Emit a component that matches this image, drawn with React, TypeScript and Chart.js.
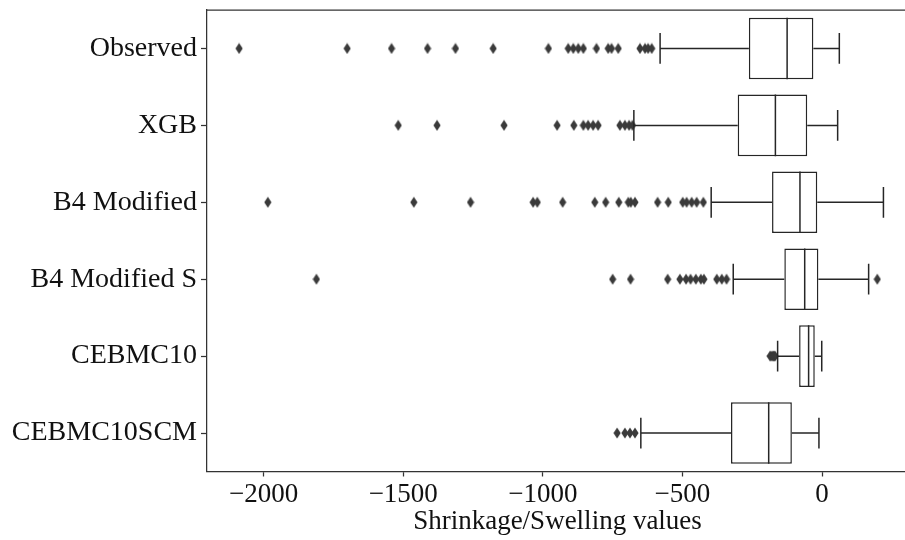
import React, { useEffect, useRef } from "react";
import { Chart, registerables } from "chart.js";

Chart.register(...registerables);

const categories = ["Observed", "XGB", "B4 Modified", "B4 Modified S", "CEBMC10", "CEBMC10SCM"];
const q1Values = [-262, -302, -179, -135, -82, -326];
const medianValues = [-125, -167, -79, -62, -48, -191];
const q3Values = [-31, -53, -17, -13, -26, -108];
const whiskerLow = [-580, -674, -397, -318, -159, -649];
const whiskerHigh = [62, 56, 220, 167, -1, -11];

const outliersObserved = [-2088, -1701, -1542, -1413, -1313, -1178, -980, -909, -891, -873, -855, -808, -766, -754, -730, -652, -634, -623, -610];
const outliersXGB = [-1518, -1379, -1139, -949, -889, -855, -838, -820, -802, -724, -706, -691, -679];
const outliersB4 = [-1985, -1462, -1259, -1035, -1020, -929, -814, -775, -728, -694, -685, -670, -589, -551, -499, -485, -467, -449, -425];
const outliersB4S = [-1811, -750, -686, -553, -509, -487, -471, -452, -434, -423, -377, -359, -342, 198];
const outliersCEBMC10 = [-186, -181, -176, -172, -168];
const outliersCEBMC10SCM = [-734, -706, -688, -670];

const xTickValues = [-2000, -1500, -1000, -500, 0];
const xMin = -2203;
const xMax = 308;
const xTitle = "Shrinkage/Swelling values";

const allOutliers = [outliersObserved, outliersXGB, outliersB4, outliersB4S, outliersCEBMC10, outliersCEBMC10SCM];

const FONT = "'Liberation Serif', 'Times New Roman', serif";
const LINE = "#262626";
const SPINE = "#333333";

export default function App() {
  const ref = useRef<HTMLCanvasElement | null>(null);

  useEffect(() => {
    if (!ref.current) return;
    const mk = document.createElement("canvas");
    mk.width = 8;
    mk.height = 12;
    const mc = mk.getContext("2d")!;
    mc.fillStyle = "#3a3a3a";
    mc.beginPath();
    mc.moveTo(4, 0.5);
    mc.lineTo(7.6, 6);
    mc.lineTo(4, 11.5);
    mc.lineTo(0.4, 6);
    mc.closePath();
    mc.fill();

    const boxPlugin = {
      id: "boxParts",
      afterDatasetsDraw(chart: any) {
        const { ctx, scales, chartArea } = chart;
        const x = scales.x;
        const y = scales.y;
        const meta = chart.getDatasetMeta(0);
        ctx.save();
        ctx.strokeStyle = LINE;
        ctx.lineWidth = 1.5;
        categories.forEach((_, i) => {
          const bar = meta.data[i];
          const h = bar.height;
          const yc = y.getPixelForValue(i);
          const top = yc - h / 2;
          const bot = yc + h / 2;
          const xm = x.getPixelForValue(medianValues[i]);
          const xq1 = x.getPixelForValue(q1Values[i]);
          const xq3 = x.getPixelForValue(q3Values[i]);
          const xl = x.getPixelForValue(whiskerLow[i]);
          const xh = x.getPixelForValue(whiskerHigh[i]);
          ctx.beginPath();
          ctx.moveTo(xm, top);
          ctx.lineTo(xm, bot);
          ctx.moveTo(xl, yc);
          ctx.lineTo(xq1, yc);
          ctx.moveTo(xq3, yc);
          ctx.lineTo(xh, yc);
          ctx.moveTo(xl, yc - h / 4);
          ctx.lineTo(xl, yc + h / 4);
          ctx.moveTo(xh, yc - h / 4);
          ctx.lineTo(xh, yc + h / 4);
          ctx.stroke();
        });
        // top spine
        ctx.strokeStyle = SPINE;
        ctx.lineWidth = 1.25;
        ctx.beginPath();
        ctx.moveTo(chartArea.left, chartArea.top);
        ctx.lineTo(chartArea.right, chartArea.top);
        ctx.stroke();
        ctx.restore();
      },
    };

    const outlierData: any[] = [];
    allOutliers.forEach((arr, i) => {
      arr.forEach((v) => outlierData.push({ x: v, y: categories[i] }));
    });

    const chart = new Chart(ref.current, {
      type: "bar",
      data: {
        labels: categories,
        datasets: [
          {
            type: "bar",
            data: categories.map((_, i) => [q1Values[i], q3Values[i]]) as any,
            backgroundColor: "#ffffff",
            borderColor: LINE,
            borderWidth: 1.5,
            borderSkipped: false,
            barPercentage: 0.8,
            categoryPercentage: 1,
          } as any,
          {
            type: "scatter",
            data: outlierData,
            pointStyle: mk as any,
            pointRadius: 5,
            backgroundColor: "#3a3a3a",
            borderColor: "#3a3a3a",
          } as any,
        ],
      },
      options: {
        indexAxis: "y",
        responsive: false,
        animation: false,
        devicePixelRatio: 1,
        layout: { padding: { top: 10, right: 12, left: 0, bottom: 0 } },
        plugins: { legend: { display: false }, tooltip: { enabled: false } },
        scales: {
          x: {
            type: "linear",
            min: xMin,
            max: xMax,
            afterBuildTicks: (scale: any) => {
              scale.ticks = xTickValues.map((v) => ({ value: v }));
            },
            afterFit: (scale: any) => {
              scale.height = 68.5;
              scale.paddingLeft = 0;
              scale.paddingRight = 0;
            },
            grid: { drawOnChartArea: false, drawTicks: true, tickLength: 5, tickColor: SPINE, tickWidth: 1.25 },
            border: { display: true, color: SPINE, width: 1.25 },
            ticks: {
              color: "#111",
              font: { family: FONT, size: 27 },
              padding: 2,
              maxRotation: 0,
              callback: (v: any) => (Number(v) < 0 ? "\u2212" + Math.abs(Number(v)) : String(v)),
            },
            title: {
              display: true,
              text: xTitle,
              color: "#111",
              font: { family: FONT, size: 27 },
              padding: { top: 0, bottom: 2 },
            },
          },
          y: {
            type: "category",
            offset: true,
            afterFit: (scale: any) => {
              scale.width = 207;
              scale.paddingTop = 0;
              scale.paddingBottom = 0;
            },
            grid: { drawOnChartArea: false, drawTicks: true, tickLength: 6, tickColor: SPINE, tickWidth: 1.25, offset: false },
            border: { display: true, color: SPINE, width: 1.25 },
            ticks: {
              color: "#111",
              font: { family: FONT, size: 28 },
              padding: 4,
            },
          },
        },
      } as any,
      plugins: [boxPlugin],
    });
    return () => chart.destroy();
  }, []);

  return (
    <div style={{ position: "absolute", left: 0, top: 0, width: 905, height: 540, overflow: "hidden", background: "#fff" }}>
      <canvas ref={ref} width={920} height={540} style={{ width: 920, height: 540, display: "block" }} />
    </div>
  );
}
